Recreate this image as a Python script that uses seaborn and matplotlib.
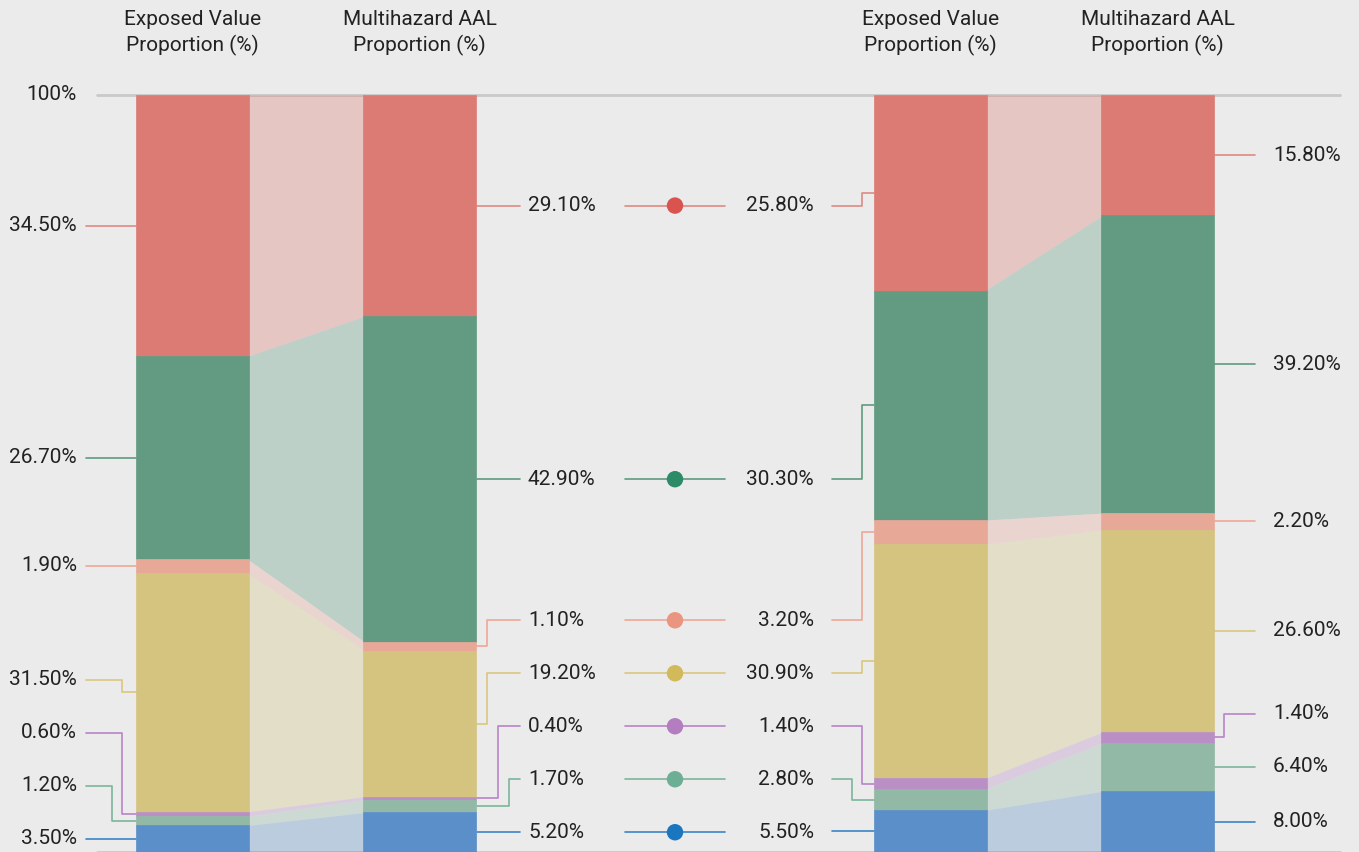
import numpy as np
import matplotlib
matplotlib.use("Agg")
import matplotlib.pyplot as plt
import seaborn as sns

# data: proportions (%) per hazard category, top of the stack first
categories = ["cat_a", "cat_b", "cat_c", "cat_d", "cat_e", "cat_f", "cat_g"]
left_exposed = [34.5, 26.7, 1.9, 31.5, 0.6, 1.2, 3.5]
left_aal = [29.1, 42.9, 1.1, 19.2, 0.4, 1.7, 5.2]
right_exposed = [25.8, 30.3, 3.2, 30.9, 1.4, 2.8, 5.5]
right_aal = [15.8, 39.2, 2.2, 26.6, 1.4, 6.4, 8.0]
header_exposed = "Exposed Value\nProportion (%)"
header_aal = "Multihazard AAL\nProportion (%)"

bar_colors = ["#DB7B73", "#629A82", "#E8A898", "#D4C480", "#BA8FC6", "#92B9A5", "#5B8FC9"]
line_colors = ["#E08A82", "#5E9A80", "#EFA796", "#D9C67E", "#B884C8", "#7DB59B", "#3B84C6"]
dot_colors = ["#D9534F", "#2E8B68", "#EA9580", "#D2B95A", "#B47DC0", "#6DAF94", "#1A76BE"]

sns.set_theme(style="white")
plt.rcParams["font.family"] = ["Roboto", "DejaVu Sans"]
bg = "#EBEBEB"
fs = 15
txt = "#222222"

fig = plt.figure(figsize=(13.59, 8.52), dpi=100, facecolor=bg)
ax = fig.add_axes([0, 0, 1, 1])
ax.set_facecolor(bg)
ax.set_xlim(0, 1359)
ax.set_ylim(0, 100 * 852 / 757)
ax.axis("off")

bw = 113
groups = [(192.5, 419.5, left_exposed, left_aal), (930.5, 1157.5, right_exposed, right_aal)]


def stack(vals):
    v = np.array(vals, dtype=float)
    v = v / v.sum() * 100
    tops = 100 - np.concatenate([[0], np.cumsum(v)[:-1]])
    bottoms = tops - v
    return v, tops, bottoms, bottoms + v / 2


def relax(centers, gap=7.0):
    pos = np.array(centers, dtype=float)
    for i in range(len(pos) - 2, -1, -1):
        pos[i] = max(pos[i], pos[i + 1] + gap)
    return pos


def leader(x_bar, x_end, rows, centers, color, base_elbow, step):
    # step-shaped connector from label row to segment centre
    prev = None
    elbow = base_elbow
    for i in range(len(rows)):
        r, c = rows[i], centers[i]
        if abs(r - c) < 0.3:
            ax.plot([x_bar, x_end], [c, c], color=color[i], lw=1.2, zorder=2)
            prev = None
            continue
        rng = (min(r, c), max(r, c))
        if prev is not None and rng[1] > prev[0] - 0.5:
            elbow = elbow + step
        else:
            elbow = base_elbow
        ax.plot([x_end, elbow, elbow, x_bar], [r, r, c, c], color=color[i], lw=1.2, zorder=2)
        prev = rng


# top and bottom rules
ax.plot([97, 1340], [100, 100], color="#C9C9C9", lw=2, zorder=0)
ax.plot([97, 1340], [0, 0], color="#C9C9C9", lw=2, zorder=0)

stacks = []
for xe, xa, ev, av in groups:
    v1, t1, b1, c1 = stack(ev)
    v2, t2, b2, c2 = stack(av)
    stacks.append((c1, c2))
    ax.bar([xe] * 7, v1, bottom=b1, width=bw, color=bar_colors, edgecolor=bar_colors,
           lw=0.5, zorder=3)
    ax.bar([xa] * 7, v2, bottom=b2, width=bw, color=bar_colors, edgecolor=bar_colors,
           lw=0.5, zorder=3)
    for i in range(7):
        ax.fill_between([xe + bw / 2 - 2, xa - bw / 2 + 2], [b1[i], b2[i]], [t1[i], t2[i]],
                        color=bar_colors[i], alpha=0.33, lw=0, zorder=1)
    ax.text(xe, 108.2, header_exposed, ha="center", va="center", fontsize=fs,
            color=txt, linespacing=1.35)
    ax.text(xa, 108.2, header_aal, ha="center", va="center", fontsize=fs,
            color=txt, linespacing=1.35)

ax.text(77, 100, "100%", ha="right", va="center", fontsize=fs, color=txt)

# left exposed labels
c_le, c_la = stacks[0]
c_re, c_ra = stacks[1]
rows_le = relax(c_le)
for i, val in enumerate(left_exposed):
    ax.text(77, rows_le[i], f"{val:.2f}%", ha="right", va="center", fontsize=fs, color=txt)
leader(136, 86, rows_le, c_le, line_colors, 122, -10)

# middle rows, shared by left AAL and right exposed
rows_mid = relax(c_la)
for i in range(7):
    ax.text(528, rows_mid[i], f"{left_aal[i]:.2f}%", ha="left", va="center",
            fontsize=fs, color=txt)
    ax.text(814, rows_mid[i], f"{right_exposed[i]:.2f}%", ha="right", va="center",
            fontsize=fs, color=txt)
    ax.plot([625, 725], [rows_mid[i]] * 2, color=line_colors[i], lw=1.2, zorder=2)
sns.scatterplot(x=[675] * 7, y=rows_mid, hue=categories, palette=dot_colors,
                s=140, edgecolor="none", legend=False, ax=ax, zorder=4)
leader(477, 520, rows_mid, c_la, line_colors, 487, 11)
leader(874, 832, rows_mid, c_re, line_colors, 862, -10)

# right AAL labels
rows_ra = relax(c_ra)
for i, val in enumerate(right_aal):
    ax.text(1273, rows_ra[i], f"{val:.2f}%", ha="left", va="center", fontsize=fs, color=txt)
leader(1214, 1255, rows_ra, c_ra, line_colors, 1224, 10)

fig.savefig("out.png", dpi=100, facecolor=bg)
